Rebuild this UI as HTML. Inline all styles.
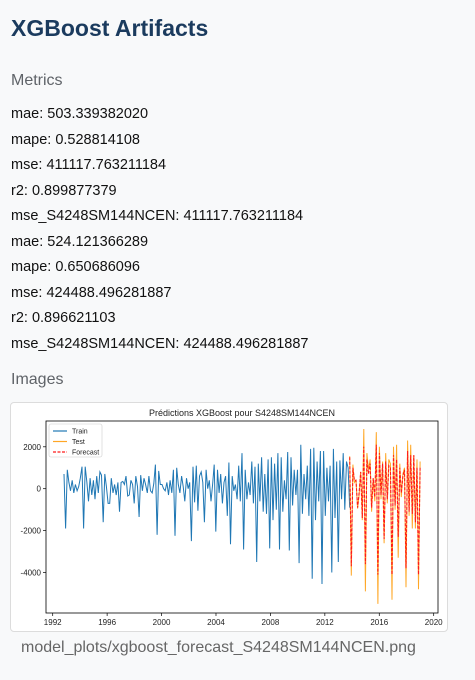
<!DOCTYPE html>
<html><head><meta charset="utf-8"><style>
body{margin:0;width:475px;height:680px;background:#f8f9fa;font-family:"Liberation Sans",sans-serif;position:relative;overflow:hidden}
.t{position:absolute;left:11px;white-space:nowrap}
h1{position:absolute;left:11px;top:15px;margin:0;font-size:23px;font-weight:bold;color:#1b3b5e}
.sec{font-size:16px;color:#5f6368}
.m{font-size:14.5px;color:#111}
#card{position:absolute;left:10px;top:402px;width:436px;height:228px;background:#fff;border:1px solid #dcdcdc;border-radius:4px}
</style></head><body>
<h1>XGBoost Artifacts</h1>
<div class="t sec" style="top:72px">Metrics</div>
<div class="t m" style="top:106px">mae: 503.339382020</div>
<div class="t m" style="top:132px">mape: 0.528814108</div>
<div class="t m" style="top:157px">mse: 411117.763211184</div>
<div class="t m" style="top:183px">r2: 0.899877379</div>
<div class="t m" style="top:208px">mse_S4248SM144NCEN: 411117.763211184</div>
<div class="t m" style="top:234px">mae: 524.121366289</div>
<div class="t m" style="top:259px">mape: 0.650686096</div>
<div class="t m" style="top:285px">mse: 424488.496281887</div>
<div class="t m" style="top:310px">r2: 0.896621103</div>
<div class="t m" style="top:336px">mse_S4248SM144NCEN: 424488.496281887</div>
<div class="t sec" style="top:371px">Images</div>
<div id="card">
<svg id="chart" width="436" height="228" font-family="Liberation Sans, sans-serif"></svg>
</div>
<div class="t sec" style="top:639px;left:21px;color:#666">model_plots/xgboost_forecast_S4248SM144NCEN.png</div>
<script>
const trainStart = 1992.83;
const trainEnd = 2013.83;
const trainValues = [
700,-1900,900,300,-100,400,-200,200,-100,100,500,1050,
-1900,1050,300,-600,500,-300,400,-500,600,-200,800,650,
-1600,700,100,-700,-700,500,-200,200,-300,300,-1100,300,
350,200,600,-350,-300,400,200,-700,600,100,-1350,650,
-100,500,200,-200,600,-100,-200,250,1150,-2200,850,200,
200,0,-100,300,-300,400,-200,900,-2250,1000,200,-200,
600,100,-600,500,0,300,-2500,1050,-650,1100,-1050,600,
800,300,-1600,900,0,400,-600,200,1150,-2050,900,-200,
700,-700,300,600,-1300,1250,-2650,600,-100,200,-500,1100,
-600,1700,-2900,900,-500,300,-300,1300,-700,1050,-3500,1200,
-600,1500,-1100,700,-1200,1400,-2850,1500,-1500,1200,-1000,1700,
-2900,1500,-1100,400,-500,1750,-2950,1500,-800,900,-300,900,
-3550,2100,-1200,700,-500,1100,-1300,1900,-4300,1950,-1500,1300,
-600,1800,-4550,1800,-1300,1000,-600,1100,-4000,1900,-1400,1300,
-3500,1350,-500,1700,-1000,1300,1000,-900
];
const testStart = 2013.83;
const testEnd = 2019.0;
const testValues = [
1550,-4150,1150,300,400,-950,-300,800,-1500,2850,-4900,1700,
900,1400,-1100,500,-600,2700,-5500,2000,-500,1300,-2600,1700,
-700,1400,1200,-5300,2000,-1000,2100,-3300,1200,-400,700,1000,
-4700,2300,-1300,2100,-1900,1600,-1900,1400,-4800,1300
];
const forecastValues = [
1500,-3700,1000,400,400,-900,-200,800,-1400,2000,-3600,1400,
700,1200,-900,500,-400,2100,-4100,1700,-300,1200,-2400,1300,
-500,1100,1000,-4100,1600,-800,1400,-2300,1000,-200,600,900,
-3800,1800,-1100,1600,-1200,1600,-1600,1000,-4100,1000
];
const xTicks = [1992,1996,2000,2004,2008,2012,2016,2020];
const yTicks = [2000,0,-2000,-4000];
const NS="http://www.w3.org/2000/svg";
const svg=document.getElementById('chart');
const L=35,R=427,T=18,B=210;
const xs=y=>51.7-10+(y-1992)*(381/28);
const ys=v=>85.7-v*0.02095;
function mk(tag,attrs,parent){const e=document.createElementNS(NS,tag);for(const k in attrs)e.setAttribute(k,attrs[k]);(parent||svg).appendChild(e);return e;}
let frame=mk('rect',{x:L,y:T,width:R-L,height:B-T,fill:'none',stroke:'#000','stroke-width':0.8});


let title=mk('text',{x:(L+R)/2,y:13,'text-anchor':'middle','font-size':9,fill:'#222'});
title.textContent='Prédictions XGBoost pour S4248SM144NCEN';


xTicks.forEach(t=>{const x=xs(t);mk('line',{x1:x,x2:x,y1:B,y2:B+3,stroke:'#000','stroke-width':0.7});
const tx=mk('text',{x:x,y:B+12,'text-anchor':'middle','font-size':8,fill:'#222'});tx.textContent=t;

});
yTicks.forEach(t=>{const y=ys(t);mk('line',{x1:L-3,x2:L,y1:y,y2:y,stroke:'#000','stroke-width':0.7});
const tx=mk('text',{x:L-5,y:y+3,'text-anchor':'end','font-size':8,fill:'#222'});tx.textContent=t;

});
function line(start,end,vals,attrs,name){const st=(end-start)/(vals.length-1);
const pts=vals.map((v,i)=>xs(start+i*st).toFixed(1)+','+ys(v).toFixed(1)).join(' ');
const p=mk('polyline',Object.assign({points:pts,fill:'none'},attrs));

}
line(trainStart,trainEnd,trainValues,{stroke:'#1f77b4','stroke-width':1},'train-line');
line(testStart,testEnd,testValues,{stroke:'#ffa726','stroke-width':1},'test-line');
line(testStart,testEnd,forecastValues,{stroke:'#ff1a1a','stroke-width':1.1,'stroke-dasharray':'3,1.5'},'forecast-line');
const lg=mk('g',{});


mk('rect',{x:38,y:21,width:53,height:33,fill:'#fff',stroke:'#ccc','stroke-width':0.6,rx:2},lg);
[['Train','#1f77b4',''],['Test','#ffa726',''],['Forecast','#ff1a1a','3,1.5']].forEach((e,i)=>{const y=28+i*10.5;
mk('line',{x1:42,x2:56,y1:y,y2:y,stroke:e[1],'stroke-width':1.2,'stroke-dasharray':e[2]},lg);
const tx=mk('text',{x:61,y:y+2.5,'font-size':7,fill:'#222'},lg);tx.textContent=e[0];

});
</script>
</body></html>
